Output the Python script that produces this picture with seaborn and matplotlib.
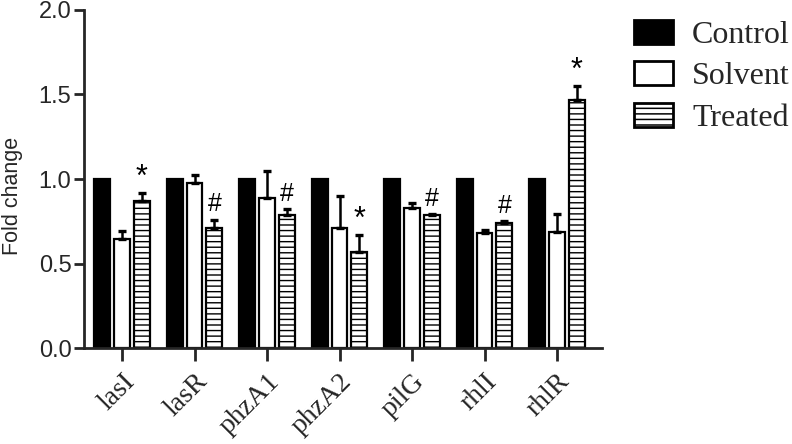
import numpy as np
import pandas as pd
import matplotlib
matplotlib.use("Agg")
import matplotlib.pyplot as plt
import seaborn as sns
from matplotlib.patches import Patch

genes = ["lasI", "lasR", "phzA1", "phzA2", "pilG", "rhlI", "rhlR"]
groups = ["Control", "Solvent", "Treated"]
control = [1.0, 1.0, 1.0, 1.0, 1.0, 1.0, 1.0]
solvent = [0.645, 0.975, 0.885, 0.71, 0.83, 0.68, 0.685]
treated = [0.87, 0.71, 0.785, 0.57, 0.785, 0.74, 1.47]
solvent_err = [0.045, 0.05, 0.165, 0.19, 0.03, 0.02, 0.105]
treated_err = [0.05, 0.05, 0.035, 0.10, 0.005, 0.01, 0.08]
marks = ["*", "#", "#", "*", "#", "#", "*"]

sns.set_theme(style="ticks")
plt.rcParams["font.family"] = ["Liberation Sans", "DejaVu Sans"]

df = pd.DataFrame({
    "gene": genes * 3,
    "group": [g for g in groups for _ in genes],
    "value": control + solvent + treated,
})

fig = plt.figure(figsize=(7.92, 4.44), dpi=100)
ax = fig.add_axes([84 / 792, 1 - 348 / 444, (602 - 84) / 792, (348 - 10) / 444])

sns.barplot(data=df, x="gene", y="value", hue="group", order=genes, hue_order=groups,
            palette={"Control": "black", "Solvent": "white", "Treated": "white"},
            edgecolor="black", linewidth=1.6, width=0.82, gap=0.2, errorbar=None,
            legend=False, ax=ax)

plt.rcParams["hatch.linewidth"] = 1.1
for bar in ax.containers[2]:
    bar.set_hatch("---")

errs = {1: solvent_err, 2: treated_err}
vals = {1: solvent, 2: treated}
for k in (1, 2):
    xs = [b.get_x() + b.get_width() / 2 for b in ax.containers[k]]
    e = np.array(errs[k])
    ax.errorbar(xs, vals[k], yerr=[np.zeros_like(e), e], fmt="none", ecolor="black",
                elinewidth=1.8, capsize=3, capthick=2.4, zorder=3)

xs_t = [b.get_x() + b.get_width() / 2 for b in ax.containers[2]]
for x, v, e, m in zip(xs_t, treated, treated_err, marks):
    if m == "*":
        ax.text(x, v + e + 0.0, m, ha="center", va="bottom", fontsize=22, color="black")
    else:
        ax.text(x, v + e + 0.02, m, ha="center", va="bottom", fontsize=18, color="black")

ax.set_ylim(0, 2.0)
ax.set_xlim(-0.524, 6.62)
ax.set_yticks([0.0, 0.5, 1.0, 1.5, 2.0])
ax.set_yticklabels(["0.0", "0.5", "1.0", "1.5", "2.0"], fontsize=17)
ax.set_xticks(range(len(genes)))
ax.set_xticklabels(genes, rotation=45, ha="right", rotation_mode="anchor",
                   family=["Liberation Serif"], fontsize=20)
ax.set_xlabel("")
ax.set_ylabel("Fold change", fontsize=15.5)
ax.yaxis.set_label_coords(-0.117, 0.45)
sns.despine(ax=ax)
for s in ("left", "bottom"):
    ax.spines[s].set_linewidth(2)
ax.tick_params(axis="y", length=7, width=2, pad=2)
ax.tick_params(axis="x", length=9, width=2, pad=6)

handles = [
    Patch(facecolor="black", edgecolor="black", linewidth=2),
    Patch(facecolor="white", edgecolor="black", linewidth=2),
    Patch(facecolor="white", edgecolor="black", linewidth=2, hatch="---"),
]
fig.legend(handles, groups, loc="upper left", bbox_to_anchor=(634 / 792, 1 - 20 / 444),
           frameon=False, prop={"family": "Liberation Serif", "size": 23},
           handlelength=1.22, handleheight=0.78, handletextpad=0.6, labelspacing=0.35,
           borderaxespad=0, borderpad=0)

fig.savefig("out.png", dpi=100)
